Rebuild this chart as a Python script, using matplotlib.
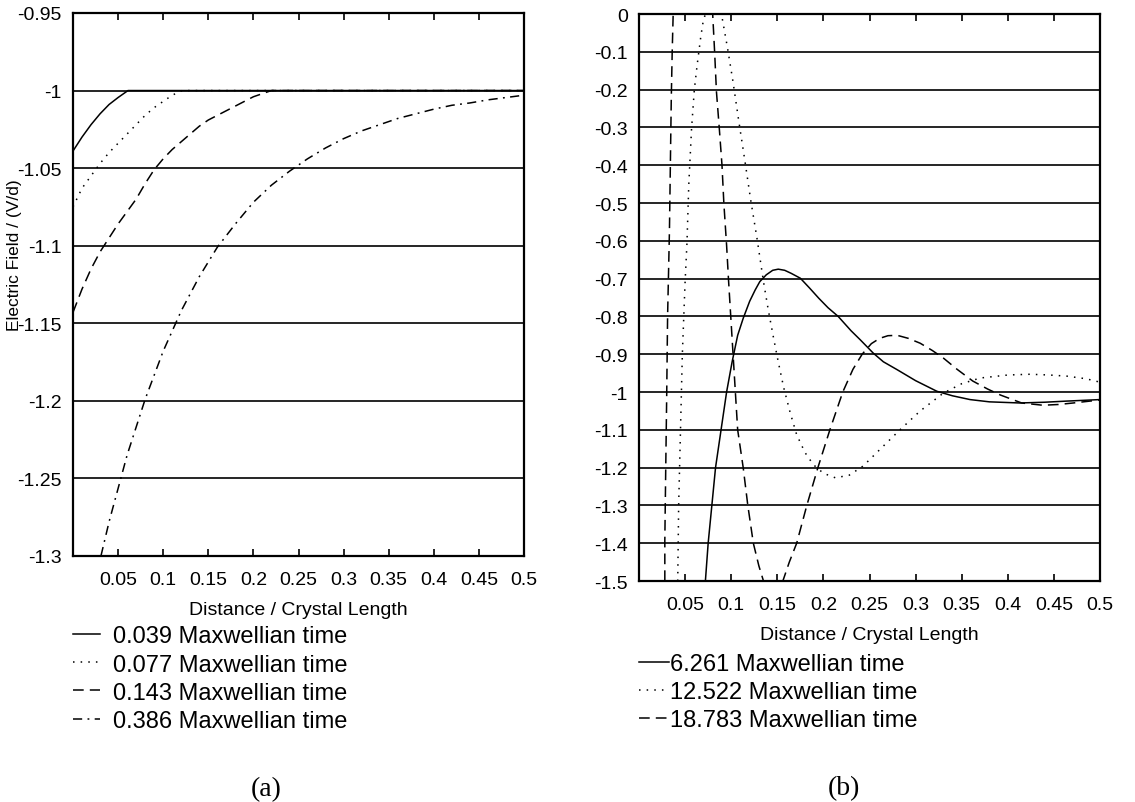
"""Campo eléctrico vs distancia para distintos tiempos maxwellianos."""
import numpy as np
import matplotlib
matplotlib.use("Agg")
import matplotlib.pyplot as plt

plt.rcParams['font.family'] = ['Liberation Sans', 'DejaVu Sans']

# ---- panel (a) ----
a_labels = ["0.039 Maxwellian time", "0.077 Maxwellian time",
            "0.143 Maxwellian time", "0.386 Maxwellian time"]
a_x1 = [0.0, 0.01, 0.02, 0.03, 0.04, 0.05, 0.061, 0.5]
a_y1 = [-1.039, -1.030, -1.022, -1.015, -1.009, -1.0045, -1.0, -1.0]
a_x2 = [0.0, 0.01, 0.02, 0.03, 0.04, 0.05, 0.06, 0.07, 0.08, 0.09, 0.1,
        0.11, 0.121, 0.5]
a_y2 = [-1.075, -1.063, -1.055, -1.047, -1.040, -1.034, -1.028, -1.022,
        -1.016, -1.011, -1.007, -1.003, -1.0, -1.0]
a_x3 = [0.0, 0.01, 0.02, 0.03, 0.04, 0.05, 0.06, 0.07, 0.08, 0.09, 0.1,
        0.11, 0.12, 0.13, 0.14, 0.15, 0.16, 0.17, 0.18, 0.19, 0.2, 0.21,
        0.22, 0.5]
a_y3 = [-1.143, -1.128, -1.115, -1.104, -1.095, -1.086, -1.078, -1.070,
        -1.060, -1.051, -1.044, -1.038, -1.033, -1.028, -1.023, -1.019,
        -1.016, -1.013, -1.010, -1.007, -1.004, -1.002, -1.0, -1.0]
a_x4 = [0.031, 0.04, 0.06, 0.08, 0.1, 0.12, 0.14, 0.16, 0.18, 0.2, 0.22,
        0.24, 0.26, 0.28, 0.3, 0.32, 0.34, 0.36, 0.38, 0.4, 0.42, 0.44,
        0.46, 0.48, 0.5]
a_y4 = [-1.300, -1.278, -1.235, -1.199, -1.168, -1.142, -1.120, -1.101,
        -1.086, -1.072, -1.061, -1.052, -1.044, -1.037, -1.031, -1.026,
        -1.022, -1.018, -1.015, -1.012, -1.0095, -1.008, -1.006, -1.0045,
        -1.003]
a_yticks = [-0.95, -1.0, -1.05, -1.1, -1.15, -1.2, -1.25, -1.3]

# ---- panel (b) ----
b_labels = ["6.261 Maxwellian time", "12.522 Maxwellian time",
            "18.783 Maxwellian time"]
b_x1 = [0.072, 0.075, 0.079, 0.083, 0.089, 0.095, 0.101, 0.107, 0.113,
        0.120, 0.126, 0.131, 0.138, 0.145, 0.151, 0.158, 0.165, 0.175,
        0.185, 0.195, 0.205, 0.216, 0.23, 0.24, 0.254, 0.265, 0.28, 0.30,
        0.323, 0.34, 0.359, 0.38, 0.413, 0.44, 0.464, 0.5]
b_y1 = [-1.50, -1.40, -1.30, -1.20, -1.10, -1.0, -0.92, -0.85, -0.805,
        -0.76, -0.73, -0.708, -0.69, -0.678, -0.675, -0.678, -0.686, -0.699,
        -0.725, -0.752, -0.777, -0.80, -0.838, -0.862, -0.897, -0.92, -0.941,
        -0.97, -0.998, -1.01, -1.020, -1.026, -1.029, -1.027, -1.024, -1.020]
b_x2 = [0.042, 0.043, 0.045, 0.047, 0.050, 0.052, 0.054, 0.057, 0.060,
        0.063, 0.067, 0.070, 0.075, 0.080, 0.085, 0.090, 0.096, 0.102, 0.108,
        0.115, 0.121, 0.128, 0.135, 0.140, 0.146, 0.151, 0.157, 0.164, 0.171,
        0.18, 0.189, 0.2, 0.213, 0.228, 0.243, 0.26, 0.283, 0.305, 0.330,
        0.35, 0.370, 0.40, 0.424, 0.445, 0.464, 0.485, 0.5]
b_y2 = [-1.50, -1.30, -1.10, -0.90, -0.708, -0.607, -0.45, -0.303, -0.20,
        -0.136, -0.06, -0.013, 0.015, 0.02, 0.01, -0.008, -0.09, -0.18,
        -0.28, -0.391, -0.49, -0.594, -0.708, -0.78, -0.858, -0.92, -0.989,
        -1.055, -1.113, -1.16, -1.192, -1.215, -1.227, -1.22, -1.196, -1.155,
        -1.100, -1.05, -1.003, -0.978, -0.963, -0.955, -0.953, -0.955, -0.958,
        -0.965, -0.974]
b_x3 = [0.028, 0.028, 0.029, 0.030, 0.031, 0.033, 0.034, 0.035, 0.036,
        0.037, 0.038, 0.080, 0.080, 0.082, 0.084, 0.087, 0.090, 0.092, 0.095,
        0.097, 0.0995, 0.102, 0.1045, 0.107, 0.113, 0.118, 0.124, 0.130,
        0.135, 0.145, 0.156, 0.163, 0.171, 0.182, 0.194, 0.207, 0.221, 0.232,
        0.242, 0.252, 0.261, 0.270, 0.280, 0.292, 0.305, 0.318, 0.330, 0.345,
        0.362, 0.378, 0.392, 0.415, 0.438, 0.455, 0.471, 0.5]
b_y3 = [-1.50, -1.393, -1.20, -1.016, -0.80, -0.575, -0.40, -0.224, -0.10,
        -0.005, 0.03, 0.03, -0.005, -0.10, -0.206, -0.30, -0.40, -0.50,
        -0.612, -0.70, -0.80, -0.90, -1.0, -1.10, -1.20, -1.30, -1.40, -1.46,
        -1.50, -1.53, -1.50, -1.45, -1.40, -1.30, -1.20, -1.10, -1.0, -0.94,
        -0.90, -0.872, -0.858, -0.851, -0.850, -0.858, -0.871, -0.89, -0.910,
        -0.94, -0.971, -0.992, -1.008, -1.029, -1.035, -1.033, -1.029, -1.021]
b_yticks = [0.0, -0.1, -0.2, -0.3, -0.4, -0.5, -0.6, -0.7, -0.8, -0.9, -1.0,
            -1.1, -1.2, -1.3, -1.4, -1.5]

x_ticks = [0.05, 0.1, 0.15, 0.2, 0.25, 0.3, 0.35, 0.4, 0.45, 0.5]

estilos = ['-', (0, (1, 4)), (0, (7, 4)), (0, (6, 3.5, 1.2, 3.5))]


def formato_eje(ax, yticks, ylim):
    ax.set_xlim(0, 0.5)
    ax.set_ylim(*ylim)
    ax.set_xticks(x_ticks)
    ax.set_xticklabels(["%g" % t for t in x_ticks])
    ax.set_yticks(yticks)
    ax.set_yticklabels(["%g" % t if t != 0 else "0" for t in yticks])
    ax.tick_params(axis='x', direction='in', top=True, length=5, width=1.2,
                   labelsize=14, pad=11, colors='black')
    ax.tick_params(axis='y', length=0, labelsize=14, pad=8)
    ax.grid(True, axis='y', color='black', linewidth=1.2)
    ax.set_axisbelow(True)
    for s in ax.spines.values():
        s.set_linewidth(1.6)
    ax.set_xlabel("Distance / Crystal Length", fontsize=14, labelpad=9)


fig = plt.figure(figsize=(11.35, 8.03), dpi=100)

ax1 = fig.add_axes([0.0643, 0.3064, 0.3974, 0.6762])
series_a = [(a_x1, a_y1), (a_x2, a_y2), (a_x3, a_y3), (a_x4, a_y4)]
for (xs, ys), lab, ls in zip(series_a, a_labels, estilos):
    ax1.plot(xs, ys, color='black', linewidth=1.1, linestyle=ls, label=lab)
formato_eje(ax1, a_yticks, (-1.3, -0.95))
ax1.set_ylabel("Electric Field / (V/d)", fontsize=12.5)
ax1.yaxis.set_label_coords(-0.114, 0.556)
ax1.legend(loc='upper left', bbox_to_anchor=(0.0, -0.128), frameon=False,
           fontsize=17, handlelength=1.15, handletextpad=0.55,
           labelspacing=0.26, borderaxespad=0, borderpad=0)

ax2 = fig.add_axes([0.563, 0.2752, 0.4062, 0.7061])
series_b = [(b_x1, b_y1), (b_x2, b_y2), (b_x3, b_y3)]
for (xs, ys), lab, ls in zip(series_b, b_labels, estilos):
    ax2.plot(xs, ys, color='black', linewidth=1.1, linestyle=ls, label=lab)
formato_eje(ax2, b_yticks, (-1.5, 0.0))
ax2.legend(loc='upper left', bbox_to_anchor=(0.0, -0.127), frameon=False,
           fontsize=17, handlelength=1.25, handletextpad=0.05,
           labelspacing=0.26, borderaxespad=0, borderpad=0)

fig.text(266 / 1135, 1 - 790 / 803, "(a)", family='Liberation Serif',
         fontsize=20, ha='center', va='center')
fig.text(844 / 1135, 1 - 789 / 803, "(b)", family='Liberation Serif',
         fontsize=20, ha='center', va='center')

fig.savefig("out.png", dpi=100)
